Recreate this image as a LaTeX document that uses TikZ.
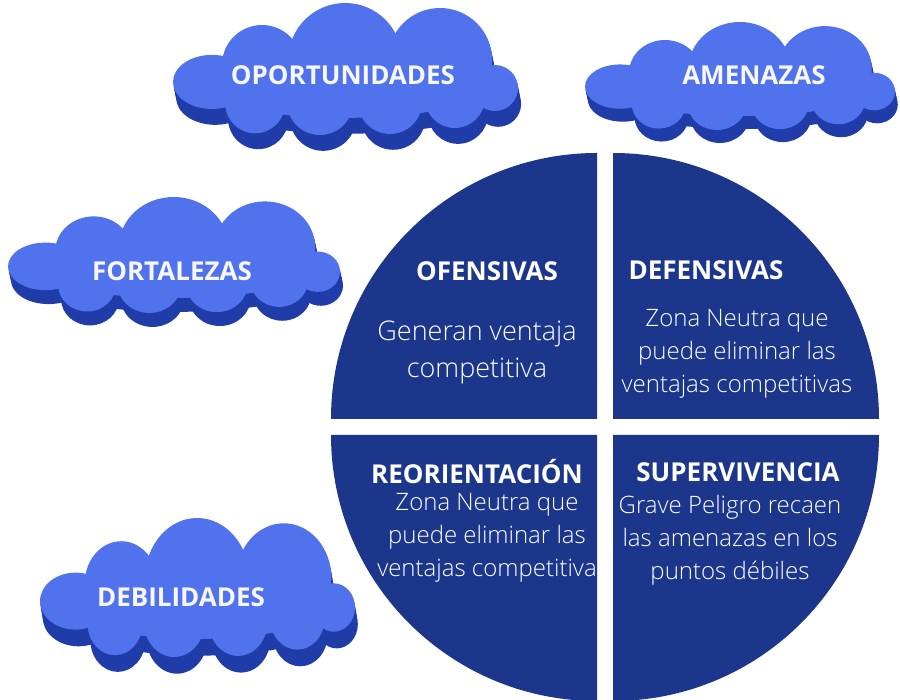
\documentclass[tikz,border=0pt]{standalone}
\usepackage{fontspec}
\setmainfont{Open Sans}
\newfontfamily\ligera{Open Sans Light}
\usetikzlibrary{positioning}
\definecolor{nubeclara}{RGB}{80,114,236}
\definecolor{nubeoscura}{RGB}{32,60,168}
\definecolor{azulcirculo}{RGB}{28,54,140}
\tikzstyle{titulo} = [text=white, font=\bfseries\fontsize{26}{30}\selectfont, inner sep=0pt]
\tikzstyle{nubetexto} = [text=white!94!gray, font=\bfseries\fontsize{26}{30}\selectfont, inner sep=0pt]
\tikzstyle{texto} = [text=white, align=center, font=\ligera\fontsize{24}{33}\selectfont, inner sep=0pt]
\tikzstyle{cuarto} = [fill=azulcirculo]
\tikzset{
  pics/nube/.style={code={
    % sombra y luego la nube clara
    \foreach \s/\col in {0.25/nubeoscura,0.5/nubeoscura,0.75/nubeoscura,1/nubeoscura,0/nubeclara}
      \foreach \cx/\cy/\rx/\ry in {0.113/0.598/0.113/0.205, 0.258/0.470/0.116/0.303,
                                   0.499/0.432/0.165/0.432, 0.774/0.432/0.151/0.394,
                                   0.933/0.644/0.067/0.174, 0.238/0.760/0.087/0.227,
                                   0.426/0.750/0.096/0.250, 0.629/0.750/0.093/0.242,
                                   0.817/0.720/0.087/0.227, 0.499/0.600/0.435/0.270}
        \fill[\col] ({\cx+0.009*\s},{\cy+0.12*\s}) ellipse [x radius=\rx, y radius=\ry];
  }}
}
\begin{document}
\begin{tikzpicture}[x=1pt, y=-1pt]
        \fill[white] (0,0) rectangle (900,700);
        \useasboundingbox (0,0) rectangle (900,700);

        % nubes
        \pic[shift={(173,3)}, xscale=345, yscale=132] {nube};
        \pic[shift={(585,22)}, xscale=310, yscale=108] {nube};
        \pic[shift={(8,197)}, xscale=332, yscale=116] {nube};
        \pic[shift={(40,518)}, xscale=315, yscale=139] {nube};

        \node[nubetexto] (00) at (343,75) {OPORTUNIDADES};
        \node[nubetexto] (01) at (754,75) {AMENAZAS};
        \node[nubetexto] (02) at (172,271) {FORTALEZAS};
        \node[nubetexto] (03) at (181,597) {DEBILIDADES};

        % circulo en cuatro partes
        \path[cuarto] (597,419) -- (331,419) arc[start angle=180, end angle=270, radius=266] -- cycle;
        \path[cuarto] (613,419) -- (613,153) arc[start angle=270, end angle=360, radius=266] -- cycle;
        \path[cuarto] (613,435) -- (879,435) arc[start angle=0, end angle=90, radius=266] -- cycle;
        \path[cuarto] (597,435) -- (597,701) arc[start angle=90, end angle=180, radius=266] -- cycle;

        \node[titulo] (04) at (487,271) {OFENSIVAS};
        \node[texto, font=\ligera\fontsize{27}{37}\selectfont] (05) at (477,352) {Generan ventaja\\competitiva};

        \node[titulo] (06) at (706,270) {DEFENSIVAS};
        \node[texto] (07) at (737,354) {Zona Neutra que\\puede eliminar las\\ventajas competitivas};

        \node[titulo] (08) at (477,472) {REORIENTACIÓN};
        \node[texto] (09) at (487,538) {Zona Neutra que\\puede eliminar las\\ventajas competitiva};

        \node[titulo] (10) at (738,472) {SUPERVIVENCIA};
        \node[texto] (11) at (730,540) {Grave Peligro recaen\\las amenazas en los\\puntos débiles};
    \end{tikzpicture}
\end{document}
